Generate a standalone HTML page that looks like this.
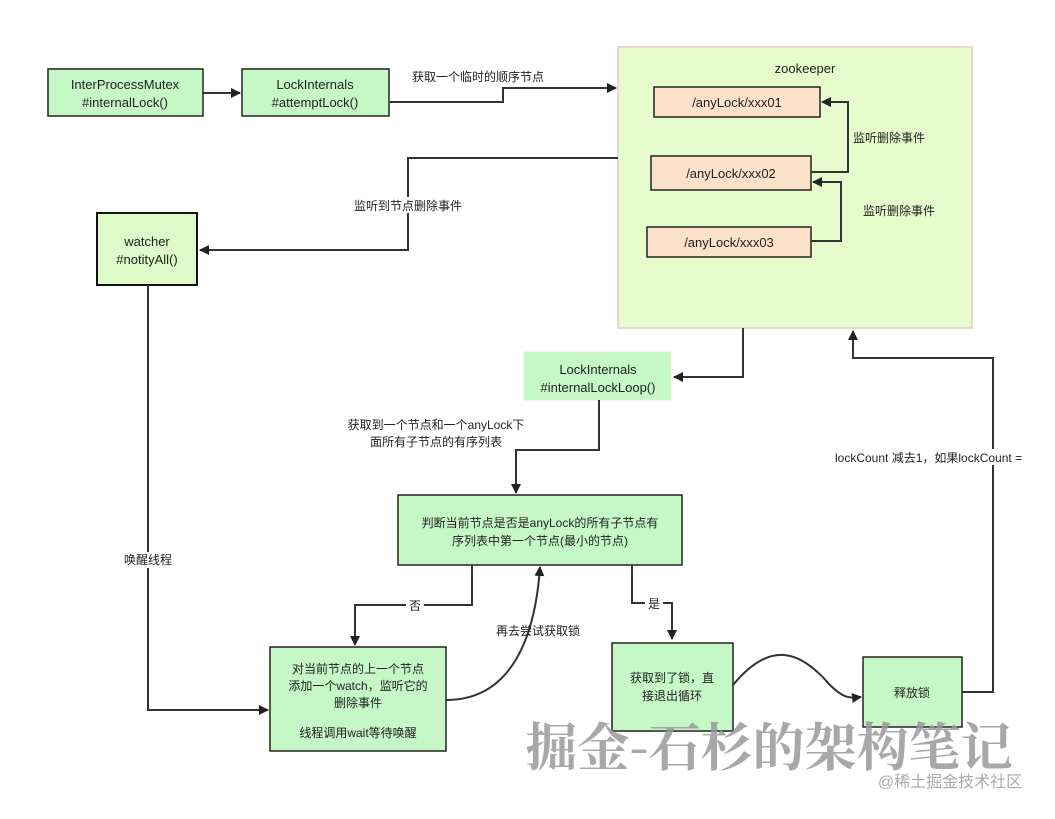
<!DOCTYPE html>
<html><head><meta charset="utf-8"><style>
body{margin:0;background:#fff;}
svg text{font-family:"Liberation Sans","Noto Sans CJK SC",sans-serif;fill:#222;}
</style></head><body>
<svg width="1055" height="814" viewBox="0 0 1055 814" xmlns="http://www.w3.org/2000/svg">
<defs><marker id="a" markerWidth="10" markerHeight="10" refX="9" refY="5" orient="auto" markerUnits="userSpaceOnUse"><path d="M0,0 L10,5 L0,10 Z" fill="#222"/></marker></defs>
<g font-size="13" text-anchor="middle">
<rect x="618" y="47" width="354" height="281" fill="#e6fccc" stroke="#ead9c9" stroke-width="2"/>
<text x="805" y="73">zookeeper</text>
<rect x="654" y="87" width="166" height="30" fill="#fde2cb" stroke="#222" stroke-width="1.5"/>
<text x="737" y="107">/anyLock/xxx01</text>
<rect x="651" y="156" width="160" height="34" fill="#fde2cb" stroke="#222" stroke-width="1.5"/>
<text x="731" y="178">/anyLock/xxx02</text>
<rect x="647" y="227" width="164" height="30" fill="#fde2cb" stroke="#222" stroke-width="1.5"/>
<text x="729" y="247">/anyLock/xxx03</text>
<rect x="48" y="69" width="155" height="47" fill="#c6f7c6" stroke="#222" stroke-width="1.5"/>
<text x="125" y="89">InterProcessMutex</text><text x="125" y="107">#internalLock()</text>
<rect x="242" y="69" width="147" height="47" fill="#c6f7c6" stroke="#222" stroke-width="1.5"/>
<text x="315" y="89">LockInternals</text><text x="315" y="107">#attemptLock()</text>
<rect x="97" y="213" width="100" height="72" fill="#ddfbc8" stroke="#111" stroke-width="2"/>
<text x="147" y="246">watcher</text><text x="147" y="264">#notityAll()</text>
<rect x="524" y="352" width="147" height="48" fill="#c6f7c6" stroke="#d8f5d0" stroke-width="1"/>
<text x="598" y="374">LockInternals</text><text x="598" y="392">#internalLockLoop()</text>
<rect x="398" y="495" width="284" height="70" fill="#c6f7c6" stroke="#222" stroke-width="1.5"/>
<text x="540" y="527" font-size="12">判断当前节点是否是anyLock的所有子节点有</text>
<text x="540" y="545" font-size="12">序列表中第一个节点(最小的节点)</text>
<rect x="270" y="647" width="176" height="104" fill="#c6f7c6" stroke="#222" stroke-width="1.5"/>
<g font-size="12"><text x="358" y="673">对当前节点的上一个节点</text><text x="358" y="690">添加一个watch，监听它的</text><text x="358" y="707">删除事件</text><text x="358" y="737">线程调用wait等待唤醒</text></g>
<rect x="612" y="643" width="121" height="88" fill="#c6f7c6" stroke="#222" stroke-width="1.5"/>
<text x="672" y="682" font-size="12">获取到了锁，直</text><text x="672" y="700" font-size="12">接退出循环</text>
<rect x="863" y="657" width="99" height="70" fill="#c6f7c6" stroke="#222" stroke-width="1.5"/>
<text x="912" y="697" font-size="12">释放锁</text>
</g>
<g fill="none" stroke="#333" stroke-width="2">
<path d="M203,93 H240" marker-end="url(#a)"/>
<path d="M389,102 H503 V88 H616" marker-end="url(#a)"/>
<path d="M811,172 H848 V102 H822" marker-end="url(#a)"/>
<path d="M811,241 H841 V182 H813" marker-end="url(#a)"/>
<path d="M618,158 H408 V250 H200" marker-end="url(#a)"/>
<path d="M148,285 V710 H268" marker-end="url(#a)"/>
<path d="M743,328 V377 H674" marker-end="url(#a)"/>
<path d="M599,400 V450 H516 V493" marker-end="url(#a)"/>
<path d="M472,565 V605 H355 V645" marker-end="url(#a)"/>
<path d="M632,565 V603 H672 V639" marker-end="url(#a)"/>
<path d="M446,700 C510,700 535,640 540,567" marker-end="url(#a)"/>
<path d="M733,685 C770,640 800,650 830,685 C845,700 852,698 861,697" marker-end="url(#a)"/>
<path d="M962,692 H993 V358 H853 V331" marker-end="url(#a)"/>
</g>
<g font-size="12" text-anchor="middle">
<rect x="404" y="68" width="150" height="16" fill="#fff"/>
<text x="478" y="81">获取一个临时的顺序节点</text>
<text x="889" y="142">监听删除事件</text>
<text x="899" y="215">监听删除事件</text>
<rect x="347" y="197" width="122" height="16" fill="#fff"/>
<text x="408" y="210">监听到节点删除事件</text>
<rect x="118" y="552" width="60" height="16" fill="#fff"/>
<text x="148" y="564">唤醒线程</text>
<text x="436" y="429">获取到一个节点和一个anyLock下</text>
<text x="436" y="446">面所有子节点的有序列表</text>
<rect x="406" y="598" width="18" height="16" fill="#fff"/>
<text x="415" y="610">否</text>
<rect x="645" y="596" width="18" height="16" fill="#fff"/>
<text x="654" y="608">是</text>
<text x="538" y="635">再去尝试获取锁</text>
<rect x="833" y="449" width="222" height="16" fill="#fff"/>
<text x="835" y="462" text-anchor="start">lockCount 减去1，如果lockCount =</text>
</g>
<text x="769" y="766" text-anchor="middle" font-size="52" font-weight="bold" style="font-family:'Noto Serif CJK SC',serif;fill:#999;opacity:0.85">掘金-石杉的架构笔记</text>
<text x="950" y="787" text-anchor="middle" font-size="16" style="fill:#aaa">@稀土掘金技术社区</text>
</svg>
</body></html>
